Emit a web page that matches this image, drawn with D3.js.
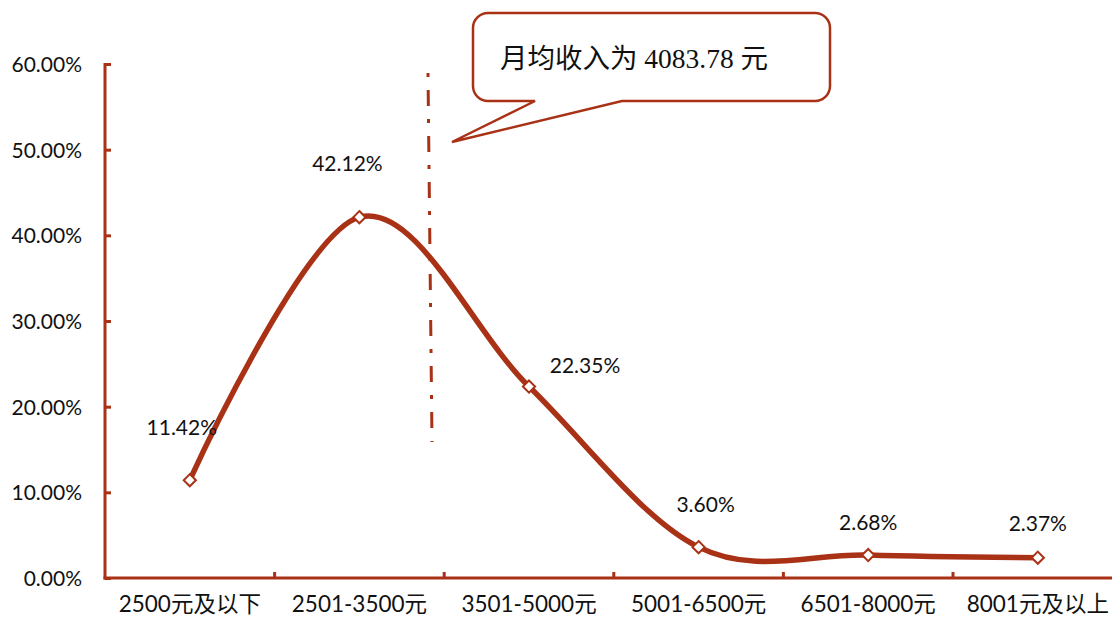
<!DOCTYPE html>
<html><head><meta charset="utf-8">
<script src="https://cdn.jsdelivr.net/npm/d3@7"></script>
<style>
html,body{margin:0;padding:0;background:#fff;}
svg{display:block;}
</style></head>
<body>
<svg id="chart" width="1112" height="621"></svg>
<script>
const categories = ["2500元及以下","2501-3500元","3501-5000元","5001-6500元","6501-8000元","8001元及以上"];
const values = [11.42, 42.12, 22.35, 3.60, 2.68, 2.37];
const yTicks = [0, 10, 20, 30, 40, 50, 60];
const calloutText = "月均收入为 4083.78 元";
const labelOffsets = [[-8,-45],[-12,-46],[56,-14],[7,-35],[0,-25],[0,-27]];

const color = "#A93216";
const svg = d3.select("#chart");
const mLeft = 105, mBottom = 578, mTop = 64;
const bandW = 169.6;
const x = d3.scaleBand().domain(categories).range([mLeft, mLeft + bandW*categories.length]).paddingInner(0).paddingOuter(0);
const y = d3.scaleLinear().domain([0, 60]).range([mBottom, mTop]);
const cx = d => x(d) + x.bandwidth()/2;

// y axis
const yAxis = svg.append("g").attr("transform", `translate(${mLeft},0)`)
  .call(d3.axisLeft(y).tickValues(yTicks).tickSize(-6).tickPadding(0).tickFormat(d => d.toFixed(2) + "%"));
yAxis.select(".domain").remove();
yAxis.selectAll(".tick line").attr("stroke", color).attr("stroke-width", 3);
yAxis.selectAll(".tick text").attr("x", -23).attr("dy", "0.35em")
  .attr("font-family", "Lato, 'Noto Sans', sans-serif").attr("font-size", 21).attr("fill", "#111");
svg.append("line").attr("x1", mLeft).attr("x2", mLeft).attr("y1", mTop-1).attr("y2", mBottom+1.5)
  .attr("stroke", color).attr("stroke-width", 3);

// x axis
const xAxis = svg.append("g").attr("transform", `translate(0,${mBottom})`)
  .call(d3.axisBottom(x).tickSize(0).tickPadding(0));
xAxis.select(".domain").remove();
xAxis.selectAll(".tick text").attr("y", 34).attr("dy", 0)
  .attr("font-family", "Lato, 'Noto Sans CJK SC', sans-serif").attr("font-size", 22.5).attr("fill", "#111");
svg.append("line").attr("x1", mLeft-1.5).attr("x2", 1112).attr("y1", mBottom).attr("y2", mBottom)
  .attr("stroke", color).attr("stroke-width", 3);
svg.append("g").selectAll("line").data(categories.slice(1)).join("line")
  .attr("x1", d => x(d)).attr("x2", d => x(d)).attr("y1", mBottom).attr("y2", mBottom-6)
  .attr("stroke", color).attr("stroke-width", 3);

// dash-dot vertical line
svg.append("line").attr("x1", 428).attr("y1", 73).attr("x2", 432).attr("y2", 442)
  .attr("stroke", color).attr("stroke-width", 3).attr("stroke-dasharray", "4,13,16,13");

// smooth line
const line = d3.line().x((d,i) => cx(categories[i])).y(d => y(d)).curve(d3.curveCatmullRom.alpha(0));
svg.append("path").datum(values).attr("d", line).attr("fill", "none")
  .attr("stroke", color).attr("stroke-width", 5.5).attr("stroke-linejoin", "round");

// markers
svg.append("g").selectAll("path").data(values).join("path")
  .attr("d", d3.symbol().type(d3.symbolDiamond2).size(95))
  .attr("transform", (d,i) => `translate(${cx(categories[i])},${y(d)})`)
  .attr("fill", "#fff").attr("stroke", color).attr("stroke-width", 2);

// data labels
svg.append("g").selectAll("text").data(values).join("text")
  .attr("x", (d,i) => cx(categories[i]) + labelOffsets[i][0])
  .attr("y", (d,i) => y(d) + labelOffsets[i][1])
  .attr("text-anchor", "middle")
  .attr("font-family", "Lato, 'Noto Sans', sans-serif").attr("font-size", 21).attr("fill", "#111")
  .text(d => d.toFixed(2) + "%");

// callout
const cl = 473, cr = 830, ct = 13, cb = 101, r = 15;
const px1 = 535, px2 = 622, tipX = 452, tipY = 142;
const p = d3.path();
p.moveTo(cl + r, ct);
p.lineTo(cr - r, ct); p.arcTo(cr, ct, cr, ct + r, r);
p.lineTo(cr, cb - r); p.arcTo(cr, cb, cr - r, cb, r);
p.lineTo(px2, cb); p.lineTo(tipX, tipY); p.lineTo(px1, cb);
p.lineTo(cl + r, cb); p.arcTo(cl, cb, cl, cb - r, r);
p.lineTo(cl, ct + r); p.arcTo(cl, ct, cl + r, ct, r);
p.closePath();
svg.append("path").attr("d", p.toString()).attr("fill", "#fff").attr("stroke", color).attr("stroke-width", 2.5);
svg.append("text").attr("x", 500).attr("y", 68)
  .attr("font-family", "'Liberation Serif', 'Noto Sans CJK SC', serif").attr("font-size", 27.5).attr("fill", "#111")
  .text(calloutText);
</script>
</body></html>
